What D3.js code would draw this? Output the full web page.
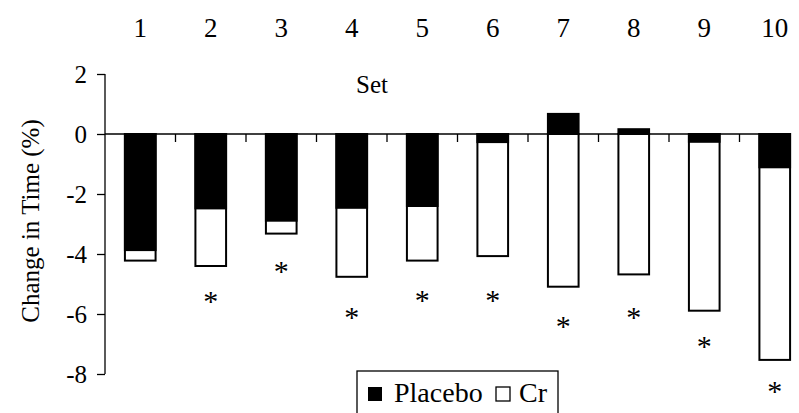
<!DOCTYPE html>
<html>
<head>
  <script src="https://d3js.org/d3.v7.min.js"></script>
  <style>
    body { margin: 0; background: #fff; }
    text { font-family: "Liberation Serif", "Times New Roman", serif; fill: #000; }
  </style>
</head>
<body>
  <div id="chart"></div>
  <script>
    // values (% change in time per set)
    var sets = ["1", "2", "3", "4", "5", "6", "7", "8", "9", "10"];
    var placebo = [-3.87, -2.48, -2.89, -2.46, -2.40, -0.27, 0.67, 0.16, -0.26, -1.11];
    var cr = [-4.22, -4.40, -3.32, -4.76, -4.22, -4.07, -5.09, -4.68, -5.89, -7.53];
    // where the significance star sits (null = none)
    var stars = [null, -5.40, -4.40, -5.92, -5.37, -5.37, -6.23, -5.92, -6.90, -8.39];
    var yTicks = [2, 0, -2, -4, -6, -8];

    var W = 799, H = 413;

    var svg = d3.select("#chart").append("svg")
      .attr("width", W)
      .attr("height", H);

    var x = d3.scaleBand()
      .domain(sets)
      .range([105, 810])
      .paddingInner(0.565)
      .paddingOuter(0.2825);

    var y = d3.scaleLinear()
      .domain([-8, 2])
      .range([374, 74]);

    // y axis
    var yAxis = svg.append("g")
      .attr("transform", "translate(105,0)")
      .call(d3.axisLeft(y).tickValues(yTicks).tickSize(8).tickPadding(10)
        .tickFormat(function(d) { return String(d); }));
    yAxis.select(".domain").attr("stroke", "#000").attr("stroke-width", 1.3)
      .attr("d", "M0," + y(2) + "V" + y(-8));
    yAxis.selectAll(".tick line").attr("stroke", "#000").attr("stroke-width", 1.3);
    yAxis.selectAll(".tick text")
      .style("font-family", "Liberation Serif")
      .style("font-size", "25px");

    // zero line with category ticks
    var bounds = sets.slice(1).map(function(s) { return x(s) - x.step() * x.paddingInner() / 2; });
    svg.append("line")
      .attr("x1", 105).attr("x2", 791)
      .attr("y1", y(0)).attr("y2", y(0))
      .attr("stroke", "#000").attr("stroke-width", 1.3);
    svg.selectAll(".xtick").data(bounds).enter().append("line")
      .attr("class", "xtick")
      .attr("x1", function(d) { return d; }).attr("x2", function(d) { return d; })
      .attr("y1", y(0)).attr("y2", y(0) + 8)
      .attr("stroke", "#000").attr("stroke-width", 1.3);

    // Cr bars (white), drawn from zero
    svg.selectAll(".cr").data(cr).enter().append("rect")
      .attr("class", "cr")
      .attr("x", function(d, i) { return x(sets[i]); })
      .attr("width", x.bandwidth())
      .attr("y", function(d) { return y(Math.max(0, d)); })
      .attr("height", function(d) { return Math.abs(y(d) - y(0)); })
      .attr("fill", "#fff")
      .attr("stroke", "#000")
      .attr("stroke-width", 2);

    // placebo bars (black) on top
    svg.selectAll(".pl").data(placebo).enter().append("rect")
      .attr("class", "pl")
      .attr("x", function(d, i) { return x(sets[i]); })
      .attr("width", x.bandwidth())
      .attr("y", function(d) { return y(Math.max(0, d)); })
      .attr("height", function(d) { return Math.abs(y(d) - y(0)); })
      .attr("fill", "#000")
      .attr("stroke", "#000")
      .attr("stroke-width", 2);

    // significance stars
    var starData = stars
      .map(function(v, i) { return { set: sets[i], v: v }; })
      .filter(function(d) { return d.v !== null; });
    svg.selectAll(".star").data(starData).enter().append("text")
      .attr("class", "star")
      .attr("x", function(d) { return x(d.set) + x.bandwidth() / 2; })
      .attr("y", function(d) { return y(d.v) + 15; })
      .attr("text-anchor", "middle")
      .style("font-size", "30px")
      .text("*");

    // set numbers along the top
    svg.selectAll(".setnum").data(sets).enter().append("text")
      .attr("class", "setnum")
      .attr("x", function(d) { return x(d) + x.bandwidth() / 2; })
      .attr("y", 37)
      .attr("text-anchor", "middle")
      .style("font-size", "27px")
      .text(function(d) { return d; });

    svg.append("text")
      .attr("x", 372)
      .attr("y", 93)
      .attr("text-anchor", "middle")
      .style("font-size", "25px")
      .text("Set");

    // y title
    svg.append("text")
      .attr("transform", "translate(39,221) rotate(-90)")
      .attr("text-anchor", "middle")
      .style("font-size", "25px")
      .text("Change in Time (%)");

    // legend
    var leg = svg.append("g").attr("transform", "translate(357,371)");
    leg.append("rect")
      .attr("x", 0).attr("y", 0)
      .attr("width", 201).attr("height", 60)
      .attr("fill", "#fff").attr("stroke", "#000").attr("stroke-width", 1.3);
    leg.append("rect")
      .attr("x", 11).attr("y", 16).attr("width", 14).attr("height", 14)
      .attr("fill", "#000");
    leg.append("text")
      .attr("x", 37).attr("y", 31)
      .style("font-size", "28px")
      .text("Placebo");
    leg.append("rect")
      .attr("x", 139).attr("y", 16).attr("width", 14).attr("height", 14)
      .attr("fill", "#fff").attr("stroke", "#000").attr("stroke-width", 1.3);
    leg.append("text")
      .attr("x", 162).attr("y", 31)
      .style("font-size", "28px")
      .text("Cr");
  </script>
</body>
</html>
